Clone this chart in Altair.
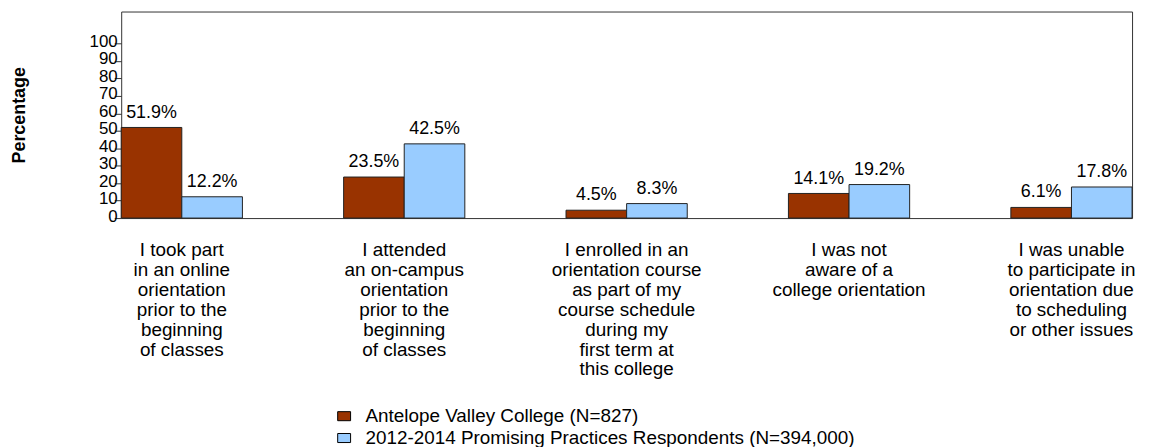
import altair as alt
import pandas as pd

categories = [
    "I took part|in an online|orientation|prior to the|beginning|of classes",
    "I attended|an on-campus|orientation|prior to the|beginning|of classes",
    "I enrolled in an|orientation course|as part of my|course schedule|during my|first term at|this college",
    "I was not|aware of a|college orientation",
    "I was unable|to participate in|orientation due|to scheduling|or other issues",
]
series = [
    "Antelope Valley College (N=827)",
    "2012-2014 Promising Practices Respondents (N=394,000)",
]
avc_values = [51.9, 23.5, 4.5, 14.1, 6.1]
pp_values = [12.2, 42.5, 8.3, 19.2, 17.8]
y_ticks = [0, 10, 20, 30, 40, 50, 60, 70, 80, 90, 100]
colors = ["#993300", "#99CCFF"]

rows = []
for c, a, p in zip(categories, avc_values, pp_values):
    rows.append({"cat": c, "series": series[0], "value": a})
    rows.append({"cat": c, "series": series[1], "value": p})
df = pd.DataFrame(rows)

FONT = "Liberation Sans"

x_axis = alt.Axis(
    title=None,
    labelExpr="split(datum.label, '|')",
    labelAngle=0,
    labelFontSize=19,
    labelLineHeight=20,
    labelPadding=23,
    labelColor="#000000",
    labelFont=FONT,
    labelLimit=400,
    labelOverlap=False,
    labelBaseline="top",
    ticks=False,
    tickSize=0,
    domain=False,
)
y_axis = alt.Axis(
    title="Percentage",
    values=y_ticks,
    grid=False,
    domain=False,
    tickSize=7,
    tickColor="#333333",
    labelFontSize=17,
    labelFont=FONT,
    labelColor="#000000",
    labelPadding=-3,
    labelOffset=-2,
    labelOverlap=False,
    labelFlush=False,
    titleFont=FONT,
    titleFontSize=18,
    titleFontWeight="bold",
    titleColor="#000000",
    titleX=-97,
    titleY=104,
    titleAngle=270,
    titleAlign="center",
    titleBaseline="alphabetic",
)

x_scale = alt.Scale(paddingInner=0.455, paddingOuter=0)
xo_scale = alt.Scale(paddingInner=0, paddingOuter=0)
y_scale = alt.Scale(domain=[0, 118.3], nice=False, zero=True)

base = alt.Chart(df)

bars = base.mark_bar(stroke="#222222", strokeWidth=1).encode(
    x=alt.X("cat:N", sort=categories, scale=x_scale, axis=x_axis),
    xOffset=alt.XOffset("series:N", sort=series, scale=xo_scale),
    y=alt.Y("value:Q", scale=y_scale, axis=y_axis),
    color=alt.Color(
        "series:N",
        sort=series,
        scale=alt.Scale(domain=series, range=colors),
        legend=alt.Legend(
            title=None,
            orient="none",
            legendX=215,
            legendY=398,
            labelFont=FONT,
            labelFontSize=19,
            labelColor="#000000",
            labelLimit=800,
            symbolType="M-1,-0.7H1V0.7H-1Z",
            symbolSize=169,
            symbolStrokeColor="#000000",
            symbolStrokeWidth=1,
            symbolOpacity=1,
            labelOffset=12,
            rowPadding=2,
        ),
    ),
)

labels = base.transform_calculate(
    lbl="format(datum.value, '.1f') + '%'"
).mark_text(
    font=FONT, fontSize=18, baseline="alphabetic", align="center", dy=-10, color="#000000"
).encode(
    x=alt.X("cat:N", sort=categories, scale=x_scale, axis=x_axis),
    xOffset=alt.XOffset("series:N", sort=series, scale=xo_scale),
    y=alt.Y("value:Q", scale=y_scale, axis=y_axis),
    text="lbl:N",
)

chart = (
    alt.layer(bars, labels)
    .properties(
        width=1018,
        height=208,
        autosize=alt.AutoSizeParams(type="none"),
        padding={"left": 114, "top": 2, "right": 9, "bottom": 231},
    )
    .configure_view(stroke="#333333", strokeWidth=1)
)

chart.save("out.html", embed_options={"renderer": "svg", "actions": False})
